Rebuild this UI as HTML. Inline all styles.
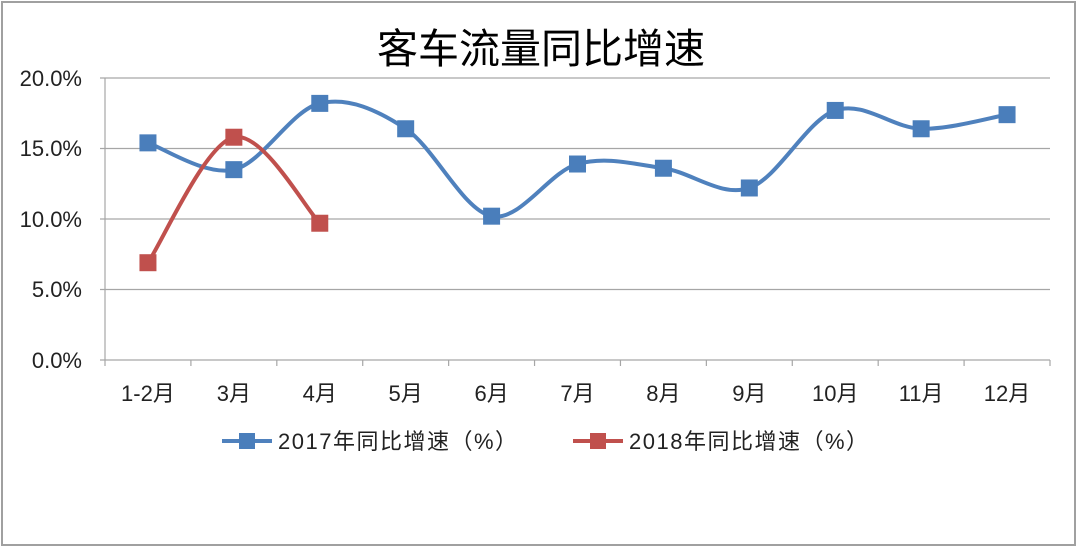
<!DOCTYPE html>
<html><head><meta charset="utf-8"><style>
html,body{margin:0;padding:0;background:#fff;}
body{width:1080px;height:549px;overflow:hidden;position:relative;font-family:"Liberation Sans","Noto Sans CJK SC",sans-serif;}
#frame{position:absolute;left:1px;top:1px;width:1075px;height:545px;border:2px solid #a0a0a0;box-sizing:border-box;}
</style></head><body>
<div id="frame"></div>
<svg id="s" width="1080" height="549" style="position:absolute;left:0;top:0">
<text x="541" y="63" text-anchor="middle" font-size="41" fill="#000" font-family="Noto Sans CJK SC, sans-serif">客车流量同比增速</text>
<g stroke="#a6a6a6" stroke-width="1.2">
<line x1="100" y1="78" x2="1050" y2="78"/>
<line x1="100" y1="148.5" x2="1050" y2="148.5"/>
<line x1="100" y1="219" x2="1050" y2="219"/>
<line x1="100" y1="289.5" x2="1050" y2="289.5"/>
<line x1="100" y1="360" x2="1050" y2="360"/>
<line x1="105" y1="78" x2="105" y2="360"/>
</g>
<g font-size="22" fill="#222" text-anchor="end" font-family="Liberation Sans, sans-serif">
<text x="82" y="86">20.0%</text><text x="82" y="156">15.0%</text><text x="82" y="227">10.0%</text><text x="82" y="297">5.0%</text><text x="82" y="368">0.0%</text>
</g>
<g id="ticks" stroke="#a6a6a6" stroke-width="1.2"></g>
<g id="xl" font-size="22" fill="#222" text-anchor="middle" font-family="Liberation Sans, Noto Sans CJK SC, sans-serif"></g>
<g id="series"></g>
<g font-size="22" fill="#222" letter-spacing="1.5" font-family="Liberation Sans, Noto Sans CJK SC, sans-serif">
<line x1="222" y1="441" x2="272" y2="441" stroke="#4f81bd" stroke-width="4"/>
<rect x="239" y="433" width="16" height="16" fill="#4a7ebb"/>
<text x="278" y="449">2017年同比增速（%）</text>
<line x1="573" y1="441" x2="623" y2="441" stroke="#c0504d" stroke-width="4"/>
<rect x="590" y="433" width="16" height="16" fill="#c0504d"/>
<text x="629" y="449">2018年同比增速（%）</text>
</g>
</svg>
<script>
var NS="http://www.w3.org/2000/svg";
function el(t,a,p){var e=document.createElementNS(NS,t);for(var k in a)e.setAttribute(k,a[k]);p.appendChild(e);return e;}
var x0=105,w=(1050-105)/11;
var labs=["1-2月","3月","4月","5月","6月","7月","8月","9月","10月","11月","12月"];
var tk=document.getElementById("ticks"),xl=document.getElementById("xl");
for(var i=0;i<=11;i++)el("line",{x1:x0+i*w,y1:360,x2:x0+i*w,y2:366},tk);
labs.forEach(function(l,i){var t=el("text",{x:x0+(i+0.5)*w,y:401},xl);t.textContent=l;});
function Y(v){return 360-v*282/20;}
function path(pts){var d="M"+pts[0][0]+","+pts[0][1];for(var i=0;i<pts.length-1;i++){var p0=pts[i-1]||pts[i],p1=pts[i],p2=pts[i+1],p3=pts[i+2]||p2;var t=6;d+=" C"+(p1[0]+(p2[0]-p0[0])/t)+","+(p1[1]+(p2[1]-p0[1])/t)+" "+(p2[0]-(p3[0]-p1[0])/t)+","+(p2[1]-(p3[1]-p1[1])/t)+" "+p2[0]+","+p2[1];}return d;}
var g=document.getElementById("series");
function draw(vals,c,fc){var pts=vals.map(function(v,i){return [x0+(i+0.5)*w,Y(v)];});
el("path",{d:path(pts),fill:"none",stroke:c,"stroke-width":4},g);
pts.forEach(function(p){el("rect",{x:p[0]-8.5,y:p[1]-8.5,width:17,height:17,fill:fc},g);});}
draw([15.4,13.5,18.2,16.4,10.2,13.9,13.6,12.2,17.7,16.4,17.4],"#4f81bd","#4a7ebb");
draw([6.9,15.8,9.7],"#c0504d","#c0504d");
</script>
</body></html>
